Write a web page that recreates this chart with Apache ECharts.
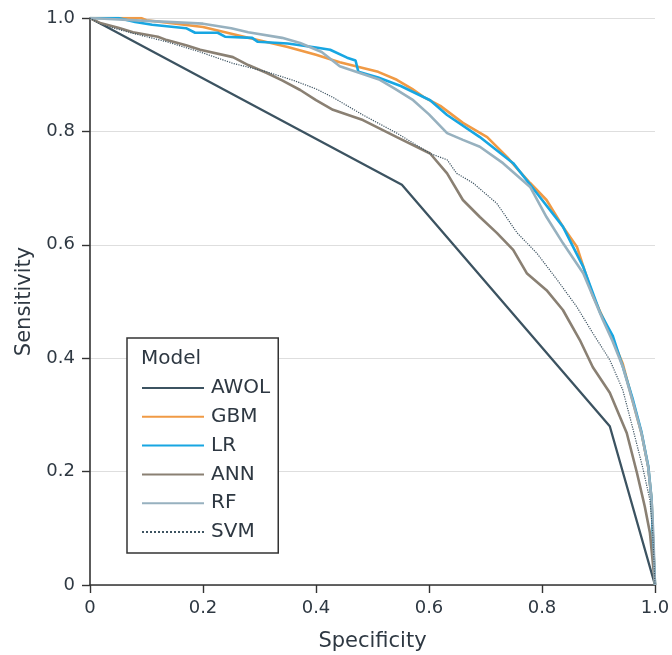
<!DOCTYPE html>
<html>
<head>
<meta charset="utf-8">
<script src="https://cdn.jsdelivr.net/npm/echarts@6/dist/echarts.min.js"></script>
<style>
  html, body { margin: 0; padding: 0; background: #fff; }
  #chart { width: 672px; height: 655px; }
</style>
</head>
<body>
<div id="chart"></div>
<script>
(function () {
  "use strict";

  var FONT = "'DejaVu Sans', sans-serif";
  var TEXT = "#2e3842";

  // ── Data: [specificity, sensitivity] ──
  var awol = [[0, 1], [0.552, 0.706], [0.92, 0.28], [1, 0]];

  var gbm = [[0, 1], [0.09, 1], [0.1, 0.996], [0.2, 0.984], [0.28, 0.965], [0.32, 0.956],
    [0.35, 0.949], [0.4, 0.935], [0.442, 0.922], [0.483, 0.912], [0.51, 0.905], [0.543, 0.891],
    [0.57, 0.875], [0.59, 0.861], [0.62, 0.845], [0.66, 0.815], [0.703, 0.79], [0.738, 0.755],
    [0.76, 0.73], [0.779, 0.709], [0.808, 0.679], [0.837, 0.632], [0.862, 0.596], [0.89, 0.51],
    [0.92, 0.445], [0.943, 0.39], [0.96, 0.326], [0.976, 0.268], [0.988, 0.208], [0.994, 0.15],
    [0.996, 0.09], [1, 0]];

  var lr = [[0, 1], [0.05, 1], [0.08, 0.993], [0.11, 0.988], [0.17, 0.982], [0.186, 0.974],
    [0.226, 0.974], [0.239, 0.967], [0.287, 0.965], [0.297, 0.958], [0.35, 0.955], [0.4, 0.948],
    [0.425, 0.944], [0.455, 0.93], [0.47, 0.925], [0.475, 0.905], [0.51, 0.895], [0.55, 0.88],
    [0.602, 0.855], [0.632, 0.829], [0.69, 0.79], [0.749, 0.744], [0.791, 0.691], [0.837, 0.632],
    [0.873, 0.561], [0.903, 0.48], [0.925, 0.44], [0.943, 0.385], [0.96, 0.33], [0.976, 0.27],
    [0.988, 0.21], [0.994, 0.15], [0.996, 0.09], [1, 0]];

  var ann = [[0, 1], [0.018, 0.991], [0.05, 0.983], [0.076, 0.975], [0.12, 0.967], [0.136, 0.961],
    [0.17, 0.952], [0.195, 0.944], [0.253, 0.931], [0.28, 0.917], [0.313, 0.903], [0.34, 0.89],
    [0.372, 0.873], [0.4, 0.855], [0.43, 0.838], [0.483, 0.82], [0.543, 0.79], [0.602, 0.761],
    [0.632, 0.726], [0.66, 0.679], [0.69, 0.649], [0.72, 0.621], [0.749, 0.591], [0.773, 0.55],
    [0.808, 0.52], [0.837, 0.485], [0.867, 0.432], [0.89, 0.384], [0.92, 0.339], [0.95, 0.268],
    [0.968, 0.198], [0.982, 0.138], [0.991, 0.092], [1, 0]];

  var rf = [[0, 1], [0.1, 0.995], [0.2, 0.99], [0.25, 0.982], [0.28, 0.975], [0.34, 0.965],
    [0.372, 0.956], [0.41, 0.94], [0.442, 0.915], [0.513, 0.891], [0.54, 0.875], [0.572, 0.855],
    [0.6, 0.83], [0.632, 0.797], [0.66, 0.785], [0.69, 0.773], [0.731, 0.744], [0.779, 0.702],
    [0.808, 0.649], [0.837, 0.603], [0.873, 0.55], [0.908, 0.467], [0.925, 0.43], [0.943, 0.385],
    [0.96, 0.326], [0.976, 0.268], [0.988, 0.208], [0.994, 0.15], [0.997, 0.09], [1, 0]];

  var svm = [[0, 1], [0.02, 0.988], [0.076, 0.973], [0.136, 0.958], [0.195, 0.94], [0.253, 0.92],
    [0.313, 0.905], [0.36, 0.89], [0.4, 0.875], [0.43, 0.86], [0.483, 0.829], [0.543, 0.797],
    [0.602, 0.761], [0.632, 0.75], [0.649, 0.726], [0.678, 0.709], [0.72, 0.673], [0.756, 0.621],
    [0.791, 0.585], [0.827, 0.538], [0.862, 0.49], [0.89, 0.444], [0.92, 0.397], [0.943, 0.344],
    [0.96, 0.279], [0.978, 0.208], [0.991, 0.15], [0.996, 0.092], [1, 0]];

  var models = ["AWOL", "GBM", "LR", "ANN", "RF", "SVM"];
  var colors = ["#3c5361", "#f09a45", "#17a6e2", "#8a8073", "#97b1bf", "#3e5462"];
  var values = [awol, gbm, lr, ann, rf, svm];

  var chart = echarts.init(document.getElementById("chart"), null, { renderer: "canvas" });

  function tickLabel(v) {
    return v === 0 ? "0" : v.toFixed(1);
  }

  var series = [];
  for (var i = 0; i < models.length; i++) {
    var dotted = models[i] === "SVM";
    series.push({
      name: models[i],
      type: "line",
      symbol: "none",
      smooth: false,
      lineStyle: {
        color: colors[i],
        width: dotted ? 1.2 : (models[i] === "AWOL" ? 2.3 : 2.6),
        type: dotted ? "dotted" : "solid"
      },
      itemStyle: { color: colors[i] },
      data: values[i]
    });
  }

  var axisCommon = {
    type: "value",
    min: 0,
    max: 1,
    interval: 0.2,
    axisLine: { show: true, onZero: false, lineStyle: { color: "#333", width: 1.6 } },
    axisTick: { show: true, length: 8, lineStyle: { color: "#333", width: 1.4 } },
    axisLabel: { color: TEXT, fontFamily: FONT, fontSize: 18, formatter: tickLabel },
    nameLocation: "middle",
    nameTextStyle: { color: TEXT, fontFamily: FONT, fontSize: 21 }
  };

  chart.setOption({
    backgroundColor: "#fff",
    animation: false,
    title: {
      text: "Model",
      left: 141,
      top: 349,
      padding: 0,
      textStyle: { color: TEXT, fontFamily: FONT, fontSize: 20, fontWeight: "normal" }
    },
    legend: {
      orient: "vertical",
      left: 127,
      top: 338,
      data: models,
      backgroundColor: "#fff",
      borderColor: "#333",
      borderWidth: 1.5,
      borderRadius: 0,
      padding: [40, 8, 11, 14],
      itemWidth: 62,
      itemHeight: 21,
      itemGap: 8.8,
      itemStyle: { opacity: 0 },
      textStyle: { color: TEXT, fontFamily: FONT, fontSize: 20, padding: [0, 0, 0, 2] }
    },
    grid: { left: 90, right: 17, top: 18, bottom: 70, containLabel: false, outerBoundsMode: "none" },
    xAxis: Object.assign({}, axisCommon, {
      name: "Specificity",
      nameGap: 46,
      splitLine: { show: false },
      axisLabel: Object.assign({}, axisCommon.axisLabel, { margin: 14 })
    }),
    yAxis: Object.assign({}, axisCommon, {
      name: "Sensitivity",
      nameGap: 50,
      splitLine: { show: true, lineStyle: { color: "#dedede", width: 1.2 } },
      axisLabel: Object.assign({}, axisCommon.axisLabel, { margin: 15 })
    }),
    series: series
  });
})();
</script>
</body>
</html>
